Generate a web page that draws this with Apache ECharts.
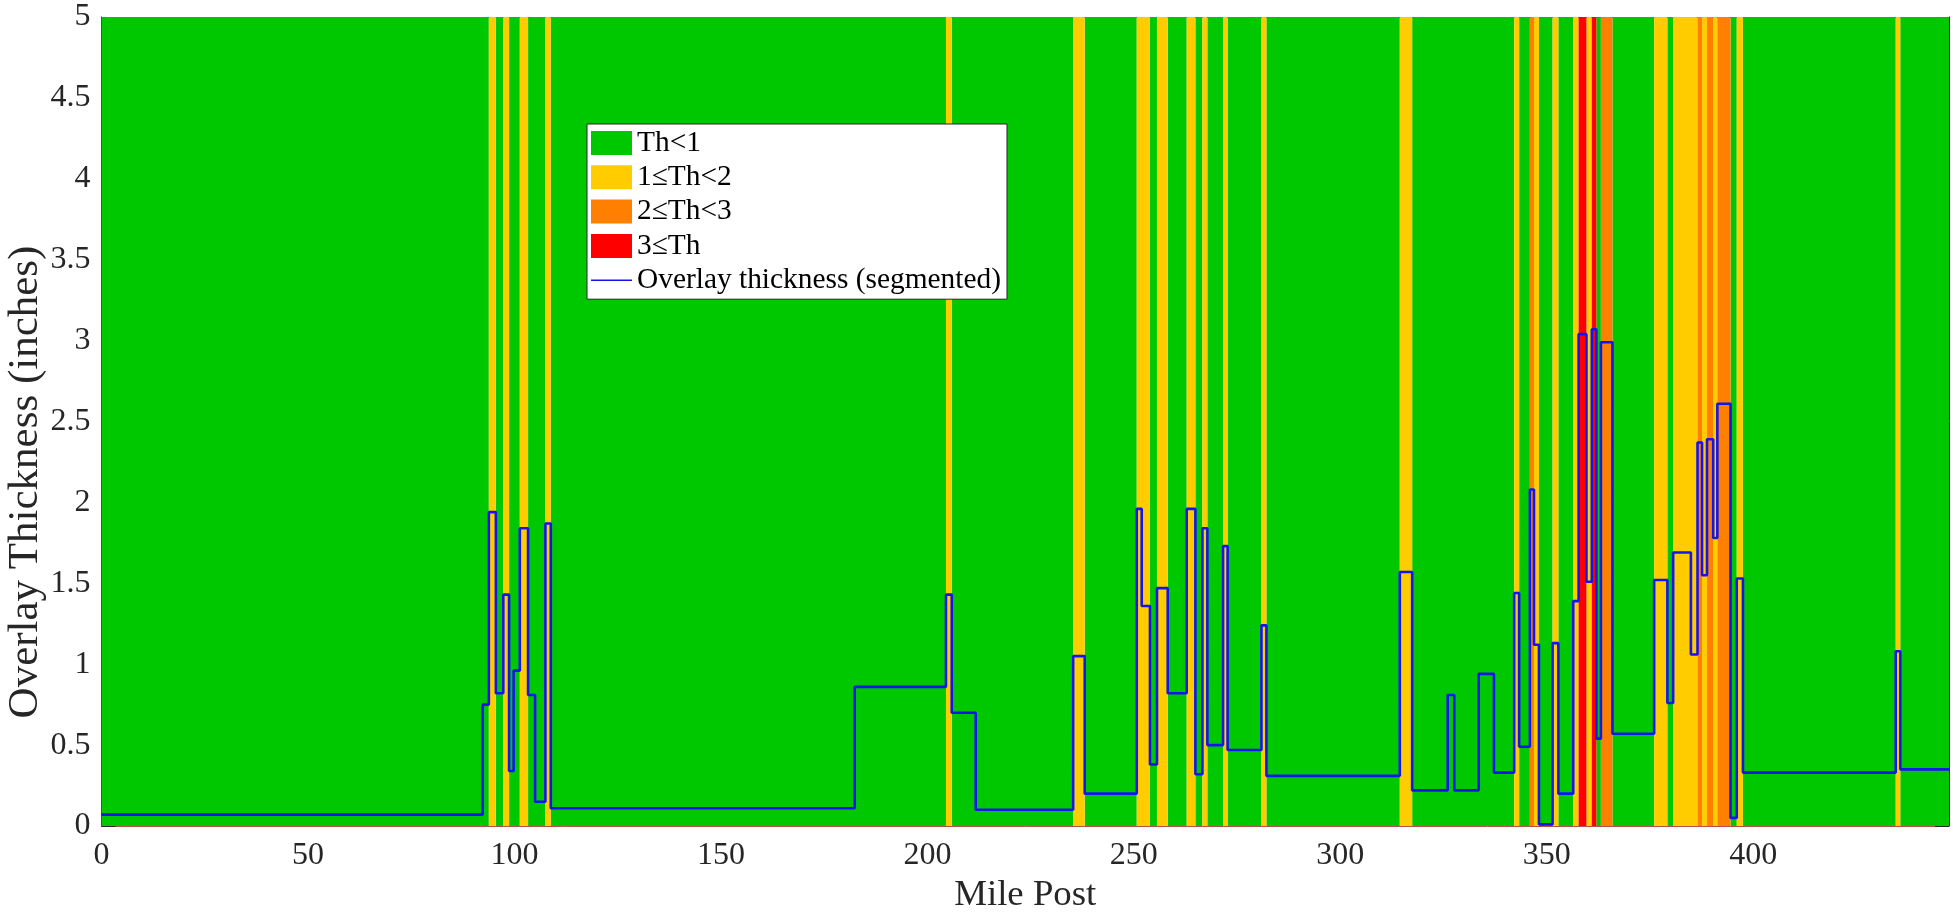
<!DOCTYPE html>
<html>
<head>
<meta charset="utf-8">
<script src="https://cdn.jsdelivr.net/npm/echarts@6/dist/echarts.min.js"></script>
<style>
  html, body { margin: 0; padding: 0; background: #ffffff; }
  #chart { width: 1953px; height: 915px; }
</style>
</head>
<body>
<div id="chart"></div>
<script>
// Segmented overlay thickness along the route: each segment starts at a mile post
// and keeps a constant thickness until the next one begins.
const segmentStarts = [
  0, 92.3, 93.8, 95.5, 97.3, 98.7, 99.8, 101.3, 103.3, 105.0, 107.5, 108.8,
  182.4, 204.5, 205.9, 211.7, 235.3, 238.1, 250.7, 251.9, 253.9, 255.6, 258.2,
  262.8, 264.9, 266.6, 267.8, 271.6, 272.7, 280.9, 282.1, 314.4, 317.4, 326.0,
  327.6, 333.5, 337.2, 342.1, 343.3, 345.9, 346.9, 348.1, 351.4, 352.8, 356.4,
  357.7, 359.6, 360.9, 362.0, 363.1, 365.9, 376.0, 379.2, 380.6, 384.9, 386.5,
  387.6, 388.8, 390.3, 391.3, 394.5, 396.0, 397.5, 434.5, 435.6
];
const segmentValues = [
  0.07, 0.75, 1.94, 0.82, 1.43, 0.34, 0.96, 1.84, 0.81, 0.15, 1.87, 0.11,
  0.86, 1.43, 0.70, 0.10, 1.05, 0.20, 1.96, 1.36, 0.38, 1.47, 0.82,
  1.96, 0.32, 1.84, 0.50, 1.73, 0.47, 1.24, 0.31, 1.57, 0.22, 0.81,
  0.22, 0.94, 0.33, 1.44, 0.49, 2.08, 1.12, 0.01, 1.13, 0.20, 1.39,
  3.04, 1.51, 3.07, 0.54, 2.99, 0.57, 1.52, 0.76, 1.69, 1.06, 2.37,
  1.55, 2.39, 1.78, 2.61, 0.05, 1.53, 0.33, 1.08, 0.35
];
const routeEnd = 447.4;

// Thickness classes used to shade the background
const classNames = ['Th<1', '1\u2264Th<2', '2\u2264Th<3', '3\u2264Th'];
const classLimits = [1, 2, 3];
const classColors = ['#00c800', '#ffcc00', '#ff8000', '#ff0000'];
const lineName = 'Overlay thickness (segmented)';
const xTitle = 'Mile Post';
const yTitle = 'Overlay Thickness (inches)';

const xTickStep = 50;
const yMin = 0, yMax = 5, yTickStep = 0.5;

function classOf(v) {
  let k = 0;
  while (k < classLimits.length && v >= classLimits[k]) k++;
  return k;
}

// Merge consecutive segments of the same class into shaded bands
const bandsByClass = classNames.map(() => []);
for (let i = 0; i < segmentStarts.length; i++) {
  const start = segmentStarts[i];
  const end = i + 1 < segmentStarts.length ? segmentStarts[i + 1] : routeEnd;
  const k = classOf(segmentValues[i]);
  const list = bandsByClass[k];
  const last = list[list.length - 1];
  if (last && last[1] === start) last[1] = end; else list.push([start, end]);
}

// Step line points: a point at each segment start, closed at the route end
const linePoints = segmentStarts.map((s, i) => [s, segmentValues[i]]);
linePoints.push([routeEnd, segmentValues[segmentValues.length - 1]]);

function renderBand(params, api) {
  const topLeft = api.coord([api.value(0), yMax]);
  const bottomRight = api.coord([api.value(1), yMin]);
  return {
    type: 'rect',
    shape: {
      x: topLeft[0], y: topLeft[1],
      width: bottomRight[0] - topLeft[0],
      height: bottomRight[1] - topLeft[1]
    },
    style: { fill: api.visual('color') }
  };
}

const FONT = "'Liberation Serif', 'Times New Roman', serif";
const INK = '#262626';
const LINE_COLOR = '#1414f0';
// Thin horizontal stroke for the line entry of the legend (41 x 24 box)
const LINE_ICON = 'path://M0,0L0.02,0L0,0.02Z M0,11.2L41,11.2L41,12.8L0,12.8Z M41,24L40.98,24L41,23.98Z';

const bandSeries = classNames.map((name, k) => ({
  name: name,
  type: 'custom',
  renderItem: renderBand,
  data: bandsByClass[k],
  encode: { x: [0, 1] },
  itemStyle: { color: classColors[k] },
  silent: true,
  z: 1
}));

const chart = echarts.init(document.getElementById('chart'), null, { renderer: 'canvas' });

const axisCommon = {
  splitLine: { show: false },
  axisTick: { inside: true, length: 14, lineStyle: { color: INK, width: 1 } },
  axisLine: { onZero: false, lineStyle: { color: INK, width: 1 } }
};

chart.setOption({
  animation: false,
  backgroundColor: '#ffffff',
  grid: { left: 101.5, right: 4, top: 17, bottom: 89, containLabel: false, outerBoundsMode: 'none' },
  // Vertical axis title, rotated to read bottom-to-top
  graphic: [{
    type: 'text',
    x: 26,
    y: 482,
    rotation: Math.PI / 2,
    silent: true,
    style: {
      text: yTitle,
      font: "43px 'Liberation Serif', 'Times New Roman', serif",
      fill: INK,
      align: 'center',
      verticalAlign: 'middle'
    }
  }],
  legend: {
    orient: 'vertical',
    left: 587,
    top: 124,
    backgroundColor: '#ffffff',
    borderColor: INK,
    borderWidth: 1,
    borderRadius: 0,
    padding: [4, 6, 4, 4],
    itemWidth: 41,
    itemHeight: 24,
    itemGap: 4.3,
    textStyle: { fontFamily: FONT, fontSize: 29.4, color: '#000000', lineHeight: 30 },
    data: classNames.map(n => ({ name: n, icon: 'rect' })).concat([
      { name: lineName, icon: LINE_ICON }
    ])
  },
  xAxis: [
    Object.assign({}, axisCommon, {
      type: 'value',
      position: 'bottom',
      min: 0,
      max: routeEnd,
      interval: xTickStep,
      axisLine: { onZero: false, lineStyle: { color: '#b5504a', width: 1 } },
      axisLabel: {
        fontFamily: FONT, fontSize: 32, color: INK, margin: 14,
        formatter: v => (Math.abs(v / xTickStep - Math.round(v / xTickStep)) < 1e-9 ? String(v) : '')
      },
      name: xTitle,
      nameLocation: 'middle',
      nameGap: 49,
      nameTextStyle: { fontFamily: FONT, fontSize: 36.8, color: INK }
    }),
    Object.assign({}, axisCommon, {
      type: 'value',
      position: 'top',
      min: 0,
      max: routeEnd,
      interval: xTickStep,
      axisLabel: { show: false }
    })
  ],
  yAxis: [
    Object.assign({}, axisCommon, {
      type: 'value',
      position: 'left',
      min: yMin,
      max: yMax,
      interval: yTickStep,
      axisLabel: { fontFamily: FONT, fontSize: 32, color: INK, margin: 11 }
    }),
    Object.assign({}, axisCommon, {
      type: 'value',
      position: 'right',
      min: yMin,
      max: yMax,
      interval: yTickStep,
      axisLabel: { show: false }
    })
  ],
  series: bandSeries.concat([
    {
      name: lineName,
      type: 'line',
      step: 'end',
      data: linePoints,
      symbol: 'none',
      showSymbol: false,
      lineStyle: { color: LINE_COLOR, width: 2.6 },
      itemStyle: { color: LINE_COLOR },
      z: 5
    }
  ])
});
</script>
</body>
</html>
